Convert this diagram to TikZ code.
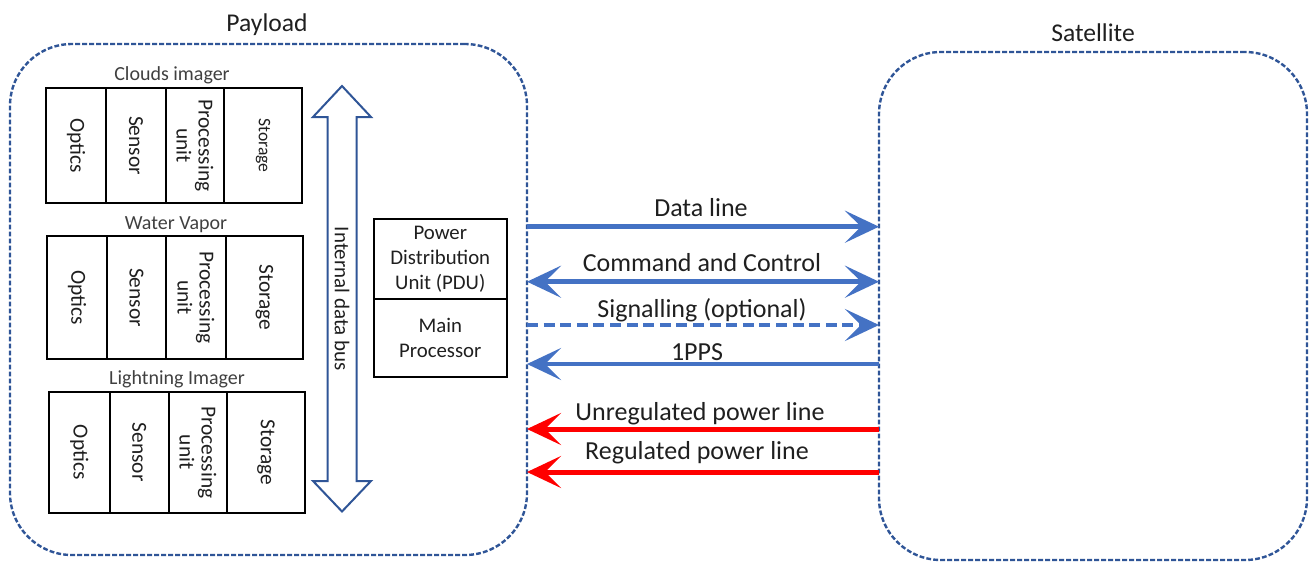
\documentclass[tikz,border=0pt]{standalone}
\usepackage{fontspec}
\setmainfont{Carlito}
\usetikzlibrary{arrows.meta}
\definecolor{bord}{HTML}{2F5597}
\definecolor{lblue}{HTML}{4472C4}
\definecolor{lred}{HTML}{FF0000}
\definecolor{txt}{HTML}{1F1F1F}
\definecolor{subt}{HTML}{404040}
\begin{document}
\begin{tikzpicture}[x=0.5pt,y=-0.5pt,
  cell/.style={draw=black, line width=1pt, rectangle, inner sep=0pt, outer sep=0pt, align=center, text=txt, font=\fontsize{10.7}{11}\selectfont, rotate=-90},
  pdu/.style={draw=black, line width=1pt, rectangle, inner sep=0pt, outer sep=0pt, align=center, text=txt, font=\fontsize{10.4}{12.6}\selectfont, minimum width=66.7pt},
  group/.style={draw=bord, line width=1.2pt, dash pattern=on 2.4pt off 1.1pt, rounded corners=31pt, rectangle, outer sep=0pt, inner sep=0pt},
  title/.style={text=txt, font=\fontsize{12.8}{14}\selectfont, anchor=base},
  subtitle/.style={text=subt, font=\fontsize{10}{12}\selectfont, anchor=base},
  lab/.style={text=txt, font=\fontsize{13}{15}\selectfont, anchor=base, inner sep=0pt},
  conn/.style={line width=2.3pt, draw=lblue},
  pconn/.style={line width=2.5pt, draw=lred},
  tip/.tip={Stealth[length=17pt,width=16pt,inset=8pt]}
]
\useasboundingbox (0,0) rectangle (1312,563);

% groups
\node[group, minimum width=258.5pt, minimum height=255.5pt] (payload) at (268.5,299.5) {};
\node[title] (payloadl) at (267,31) {Payload};
\node[group, minimum width=214pt, minimum height=254pt] (satellite) at (1093,306) {};
\node[title] (satellitel) at (1093,41.5) {Satellite};

% Clouds imager
\node[subtitle] (cloudsl) at (172,80) {Clouds imager};
\node[cell, minimum width=57.5pt, minimum height=30pt] (c1) at (76,145.5) {Optics};
\node[cell, minimum width=57.5pt, minimum height=30pt] (c2) at (136,145.5) {Sensor};
\node[cell, minimum width=57.5pt, minimum height=29pt] (c3) at (195,145.5) {Processing\\unit};
\node[cell, minimum width=57.5pt, minimum height=39pt, font=\fontsize{8.8}{10}\selectfont] (c4) at (263,145.5) {Storage};

% Water vapor
\node[subtitle] (waterl) at (176,229) {Water Vapor};
\node[cell, minimum width=61.5pt, minimum height=30pt] (w1) at (77,297.5) {Optics};
\node[cell, minimum width=61.5pt, minimum height=29.5pt] (w2) at (136.5,297.5) {Sensor};
\node[cell, minimum width=61.5pt, minimum height=30pt] (w3) at (196,297.5) {Processing\\unit};
\node[cell, minimum width=61.5pt, minimum height=38.5pt] (w4) at (264.5,297.5) {Storage};

% Lightning imager
\node[subtitle] (lightl) at (177,384) {Lightning Imager};
\node[cell, minimum width=60.25pt, minimum height=30.25pt] (l1) at (79.25,452.25) {Optics};
\node[cell, minimum width=60.25pt, minimum height=29.75pt] (l2) at (139.25,452.25) {Sensor};
\node[cell, minimum width=60.25pt, minimum height=29pt] (l3) at (198,452.25) {Processing\\unit};
\node[cell, minimum width=60.25pt, minimum height=39pt] (l4) at (266,452.25) {Storage};

% internal data bus (block double arrow)
\draw[draw=bord, line width=1pt, fill=white, line join=miter]
  (342,86) -- (371,117) -- (356.5,117) -- (356.5,481) -- (371,481) -- (342,511.5)
  -- (313,481) -- (327.5,481) -- (327.5,117) -- (313,117) -- cycle;
\node[text=txt, font=\fontsize{10.5}{12}\selectfont, rotate=-90] (busl) at (342,299) {Internal data bus};

% PDU and main processor
\node[pdu, minimum height=40pt] (pdubox) at (440.3,259) {Power\\Distribution\\Unit (PDU)};
\node[pdu, minimum height=39pt] (mainp) at (440.3,338) {Main\\Processor};

% connectors
\coordinate (y1) at (0,226.7);
\coordinate (y2) at (0,281.7);
\coordinate (y3) at (0,325);
\coordinate (y4) at (0,364);
\coordinate (y5) at (0,429);
\coordinate (y6) at (0,472);

\draw[conn, -tip] (y1 -| payload.east) -- (y1 -| satellite.west);
\draw[conn, tip-tip] (y2 -| payload.east) -- (y2 -| satellite.west);
\draw[conn, -tip, dash pattern=on 5.5pt off 2.8pt] (y3 -| payload.east) -- (y3 -| satellite.west);
\draw[conn, -tip] (y4 -| satellite.west) -- (y4 -| payload.east);
\draw[pconn, -tip] (y5 -| satellite.west) -- (y5 -| payload.east);
\draw[pconn, -tip] (y6 -| satellite.west) -- (y6 -| payload.east);

\node[lab] (ldata) at (701,216) {Data line};
\node[lab] (lcc) at (702,271.7) {Command and Control};
\node[lab] (lsig) at (702,317) {Signalling (optional)};
\node[lab] (lpps) at (697,360) {1PPS};
\node[lab] (lunreg) at (700,420) {Unregulated power line};
\node[lab] (lreg) at (697,459) {Regulated power line};
\end{tikzpicture}
\end{document}
